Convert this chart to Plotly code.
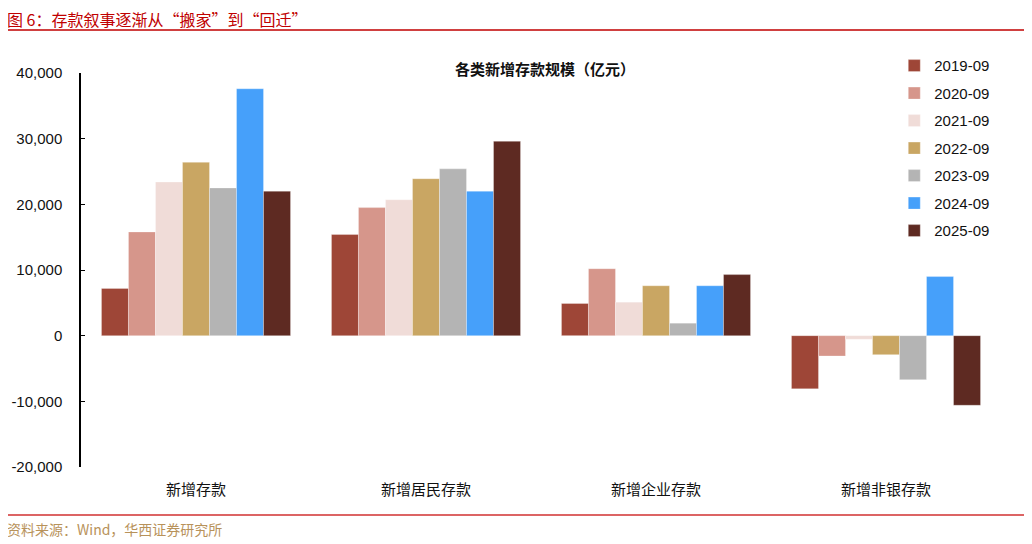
import plotly.graph_objects as go

# 类别与数值（亿元）
categories = ["新增存款", "新增居民存款", "新增企业存款", "新增非银存款"]
periods = ["2019-09", "2020-09", "2021-09", "2022-09", "2023-09", "2024-09", "2025-09"]

v2019 = [7200, 15400, 4900, -8100]
v2020 = [15800, 19500, 10200, -3100]
v2021 = [23400, 20700, 5100, -550]
v2022 = [26400, 23900, 7600, -2900]
v2023 = [22500, 25400, 1900, -6700]
v2024 = [37600, 22000, 7600, 9000]
v2025 = [22000, 29600, 9300, -10600]

values = [v2019, v2020, v2021, v2022, v2023, v2024, v2025]
colors = ["#9E4637", "#D6968B", "#F0DCD8", "#C9A663", "#B4B4B4", "#46A0FA", "#5E2A22"]

y_ticks = [-20000, -10000, 0, 10000, 20000, 30000, 40000]
y_ticktext = ["-20,000", "-10,000", "0", "10,000", "20,000", "30,000", "40,000"]

fig = go.Figure()
for p, v, c in zip(periods, values, colors):
    fig.add_trace(go.Bar(x=categories, y=v, name=p, legendgroup=p,
                         marker=dict(color=c, line=dict(color="rgba(255,255,255,0.6)", width=0.5))))

base_font = "Liberation Sans, Arial, Noto Sans CJK SC, sans-serif"

# 页面 body 默认有 8px 边距，所以图宽高各减 8
fig.update_layout(
    width=1024, height=536,
    margin=dict(l=73, r=31, t=65, b=77, autoexpand=False),
    plot_bgcolor="white", paper_bgcolor="white",
    barmode="group", bargap=0.178, bargroupgap=0,
    font=dict(family=base_font, size=15, color="#111111"),
    title=dict(text="<b>各类新增存款规模（亿元）</b>", x=0.5243, xanchor="center",
               y=0.884, yanchor="middle", font=dict(size=15, family="Noto Sans CJK SC", color="#111111")),
    legend=dict(x=0.884, xanchor="left", y=1.06, yanchor="top", bgcolor="rgba(0,0,0,0)",
                tracegroupgap=5, font=dict(size=15, family=base_font), itemwidth=30),
    showlegend=True,
    xaxis=dict(showline=False, ticks="", showgrid=False, zeroline=False, automargin=False,
               ticklabelstandoff=12,
               tickfont=dict(family="Noto Sans CJK SC", size=15, color="#111111")),
    xaxis2=dict(overlaying="x", anchor="free", position=1/3, range=[-0.5, 3.5],
                tickvals=[0.5, 1.5, 2.5, 3.5], ticks="inside", ticklen=4, tickcolor="black",
                showline=True, linecolor="black", linewidth=1.5,
                showticklabels=False, showgrid=False, zeroline=False),
    yaxis=dict(range=[-20000, 40000], tickvals=y_ticks, ticktext=y_ticktext, automargin=False,
               showline=True, linecolor="black", linewidth=1.5, ticks="inside", ticklen=4,
               tickcolor="black", showgrid=False, zeroline=False, ticklabelstandoff=14),
)

# 顶部标题与底部来源（图注文字与分隔线）
fig.add_annotation(text="图 6：存款叙事逐渐从“搬家”到“回迁”", xref="paper", yref="paper",
                   x=-0.0826, y=1.1358, xanchor="left", yanchor="middle", showarrow=False,
                   font=dict(family="Noto Sans CJK SC", size=16, color="#C00000"))
fig.add_shape(type="line", xref="paper", yref="paper", x0=-0.083, x1=1.029, y0=1.109, y1=1.109,
              line=dict(color="#C00000", width=1.5))
fig.add_shape(type="line", xref="paper", yref="paper", x0=-0.083, x1=1.029, y0=-0.122, y1=-0.122,
              line=dict(color="#D03030", width=1.5))
fig.add_annotation(text="资料来源：Wind，华西证券研究所", xref="paper", yref="paper",
                   x=-0.0826, y=-0.157, xanchor="left", yanchor="middle", showarrow=False,
                   font=dict(family="Noto Sans CJK SC", size=14, color="#B8925A"))

fig.write_html("out.html")
